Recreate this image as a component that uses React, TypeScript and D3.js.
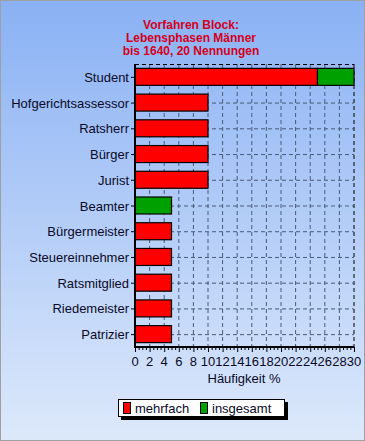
import React, { useEffect, useRef } from 'react';
import * as d3 from 'd3';

const categories = ['Student', 'Hofgerichtsassessor', 'Ratsherr', 'Bürger', 'Jurist', 'Beamter',
  'Bürgermeister', 'Steuereinnehmer', 'Ratsmitglied', 'Riedemeister', 'Patrizier'];
const mehrfach = [25, 10, 10, 10, 10, 0, 5, 5, 5, 5, 5];
const insgesamt = [5, 0, 0, 0, 0, 5, 0, 0, 0, 0, 0];
const xTicks = [0, 2, 4, 6, 8, 10, 12, 14, 16, 18, 20, 22, 24, 26, 28, 30];
const titleLines = ['Vorfahren Block:', 'Lebensphasen Männer', 'bis 1640, 20 Nennungen'];

const W = 365;
const H = 441;

const drawChart = (node: SVGSVGElement) => {
  const svg = d3.select(node);
  svg.selectAll('*').remove();

  const defs = svg.append('defs');
  const grad = defs.append('linearGradient').attr('id', 'bg').attr('x1', 0).attr('y1', 0).attr('x2', 0).attr('y2', 1);
  grad.append('stop').attr('offset', '0%').attr('stop-color', '#8ab1f4');
  grad.append('stop').attr('offset', '100%').attr('stop-color', '#dde9fb');

  svg.append('rect').attr('width', W).attr('height', H).attr('fill', 'url(#bg)');
  svg.append('rect').attr('x', 0.5).attr('y', 0.5).attr('width', W - 1).attr('height', H - 1)
    .attr('fill', 'none').attr('stroke', '#a0a0a0');

  const font = 'Liberation Sans, Arial, sans-serif';

  svg.append('g').selectAll('text').data(titleLines).enter().append('text')
    .attr('x', 191).attr('y', (d, i) => 29 + i * 13)
    .attr('text-anchor', 'middle').attr('font-family', font).attr('font-weight', 'bold')
    .attr('font-size', 12).attr('fill', '#d4001c').text(d => d);

  const left = 135;
  const right = 354;
  const top = 64;
  const bottom = 347;

  const x = d3.scaleLinear().domain([0, 30]).range([left, right]);
  const y = d3.scaleBand().domain(categories).range([top, bottom]).paddingInner(0.34).paddingOuter(0.17);

  const g = svg.append('g');

  // grid
  g.selectAll('.vgrid').data(xTicks.slice(1)).enter().append('line')
    .attr('x1', d => x(d)).attr('x2', d => x(d)).attr('y1', top).attr('y2', bottom)
    .attr('stroke', d => (d === 30 ? '#000' : '#4a5a78')).attr('stroke-dasharray', '4,3').attr('stroke-width', 1);
  g.selectAll('.hgrid').data(categories).enter().append('line')
    .attr('x1', left).attr('x2', right)
    .attr('y1', d => (y(d) as number) + y.bandwidth() / 2 + 0.5)
    .attr('y2', d => (y(d) as number) + y.bandwidth() / 2 + 0.5)
    .attr('stroke', '#4a5a78').attr('stroke-dasharray', '4,3');
  g.append('line').attr('x1', left).attr('x2', right).attr('y1', top + 0.5).attr('y2', top + 0.5)
    .attr('stroke', '#000').attr('stroke-dasharray', '4,3');

  // bars
  const rows = categories.map((c, i) => ({ c, m: mehrfach[i], s: insgesamt[i] }));
  g.selectAll('.red').data(rows.filter(r => r.m > 0)).enter().append('rect')
    .attr('x', x(0)).attr('y', d => y(d.c) as number)
    .attr('width', d => x(d.m) - x(0)).attr('height', y.bandwidth())
    .attr('fill', '#ff0000').attr('stroke', '#000').attr('stroke-width', 1.2);
  g.selectAll('.green').data(rows.filter(r => r.s > 0)).enter().append('rect')
    .attr('x', d => x(d.m)).attr('y', d => y(d.c) as number)
    .attr('width', d => x(d.m + d.s) - x(d.m)).attr('height', y.bandwidth())
    .attr('fill', '#00a000').attr('stroke', '#000').attr('stroke-width', 1.2);

  // axes
  g.append('line').attr('x1', left).attr('x2', left).attr('y1', top).attr('y2', bottom + 1)
    .attr('stroke', '#000').attr('stroke-width', 2);
  g.append('line').attr('x1', left - 1).attr('x2', right).attr('y1', bottom).attr('y2', bottom)
    .attr('stroke', '#000').attr('stroke-width', 2);

  g.selectAll('.ytick').data(categories).enter().append('line')
    .attr('x1', left - 4).attr('x2', left)
    .attr('y1', d => (y(d) as number) + y.bandwidth() / 2 + 0.5)
    .attr('y2', d => (y(d) as number) + y.bandwidth() / 2 + 0.5)
    .attr('stroke', '#000');
  g.selectAll('.ylab').data(categories).enter().append('text')
    .attr('x', left - 6).attr('y', d => (y(d) as number) + y.bandwidth() / 2 + 5)
    .attr('text-anchor', 'end').attr('font-family', font).attr('font-size', 13)
    .attr('fill', '#0a0a28').text(d => d);

  const minor = d3.range(0, 30.01, 0.5);
  g.selectAll('.xminor').data(minor).enter().append('line')
    .attr('x1', d => x(d) + 0.5).attr('x2', d => x(d) + 0.5)
    .attr('y1', bottom).attr('y2', d => (d % 2 === 0 ? bottom + 5 : bottom + 3))
    .attr('stroke', '#000');
  g.selectAll('.xlab').data(xTicks).enter().append('text')
    .attr('x', d => x(d)).attr('y', 366)
    .attr('text-anchor', 'middle').attr('font-family', font).attr('font-size', 13)
    .attr('fill', '#0a0a28').text(d => d);

  svg.append('text').attr('x', 244).attr('y', 383).attr('text-anchor', 'middle')
    .attr('font-family', font).attr('font-size', 13).attr('fill', '#0a0a28').text('Häufigkeit %');

  // legend
  const lg = svg.append('g');
  lg.append('rect').attr('x', 121).attr('y', 402).attr('width', 167).attr('height', 18).attr('fill', '#000');
  lg.append('rect').attr('x', 118.5).attr('y', 399.5).attr('width', 166).attr('height', 17)
    .attr('fill', '#fff').attr('stroke', '#000');
  const items = [{ n: 'mehrfach', c: '#ff0000', x: 123 }, { n: 'insgesamt', c: '#00a000', x: 200 }];
  lg.selectAll('.sw').data(items).enter().append('rect')
    .attr('x', d => d.x + 0.5).attr('y', 402.5).attr('width', 7).attr('height', 11)
    .attr('fill', d => d.c).attr('stroke', '#000');
  lg.selectAll('.lt').data(items).enter().append('text')
    .attr('x', d => d.x + 12).attr('y', 413).attr('font-family', font).attr('font-size', 13)
    .attr('fill', '#0a0a28').text(d => d.n);
};

const App = () => {
  const ref = useRef<SVGSVGElement>(null);
  useEffect(() => {
    if (ref.current) drawChart(ref.current);
  }, []);
  return <svg ref={ref} width={W} height={H} style={{ position: 'absolute', left: 0, top: 0 }} />;
};

export default App;
